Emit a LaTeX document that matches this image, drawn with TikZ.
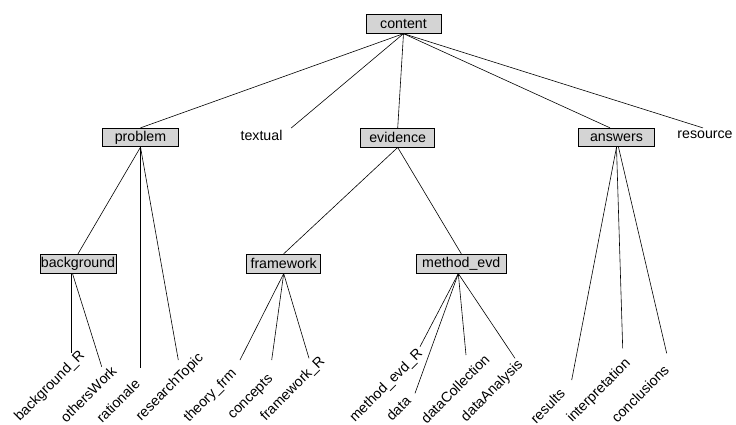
\documentclass[tikz,border=0pt]{standalone}
\usepackage{fontspec}
\setmainfont{Liberation Sans}
\definecolor{boxfill}{RGB}{212,212,212}
\begin{document}
\begin{tikzpicture}[x=1pt,y=-1pt,
  every node/.style={font=\fontsize{14.2}{15}\selectfont, inner sep=0pt},
  cat/.style={draw=black, fill=boxfill, line width=0.8pt, minimum height=18.5pt},
  leaf/.style={rotate=45},
  edge/.style={draw=black, line width=0.6pt}]
\useasboundingbox (0,0) rectangle (736,425);
% boxes
\node[cat, minimum width=75pt] (content) at (403.5,24) {content};
\node[cat, minimum width=76pt] (problem) at (140.5,137.5) {problem};
\node (textual) at (261.5,135) {textual};
\node[cat, minimum width=74pt] (evidence) at (397.7,137.8) {evidence};
\node[cat, minimum width=76pt] (answers) at (616.5,137.5) {answers};
\node (resource) at (705,135) {resource};
\node[cat, minimum width=76pt, minimum height=19pt] (background) at (78,263.7) {background};
\node[cat, minimum width=74pt, minimum height=19pt] (framework) at (283.7,263.7) {framework};
\node[cat, minimum width=90pt, minimum height=19pt] (methodevd) at (461.3,263.7) {method\_evd};
% leaves
\node[leaf] (bgR) at (50,386.5) {background\_R};
\node[leaf] (others) at (88.3,394) {othersWork};
\node[leaf] (rationale) at (118,401) {rationale};
\node[leaf] (research) at (170,387.5) {researchTopic};
\node[leaf] (theory) at (210.5,396) {theory\_frm};
\node[leaf] (concepts) at (251,397.5) {concepts};
\node[leaf] (frameR) at (293,389) {framework\_R};
\node[leaf] (methodR) at (386.5,386) {method\_evd\_R};
\node[leaf] (data) at (398.3,408.3) {data};
\node[leaf] (datacoll) at (455,389) {dataCollection};
\node[leaf] (dataanal) at (492.3,391) {dataAnalysis};
\node[leaf] (results) at (547.5,406) {results};
\node[leaf] (interp) at (599,391) {interpretation};
\node[leaf] (concl) at (640,394) {conclusions};
% free ends of leaf connectors
\coordinate (tbgR) at (71,353.3);
\coordinate (tothers) at (101.7,366.7);
\coordinate (trationale) at (140.5,368.3);
\coordinate (tresearch) at (178.3,360);
\coordinate (ttheory) at (240,360);
\coordinate (tconcepts) at (271.7,360);
\coordinate (tframeR) at (309,358.3);
\coordinate (tmethodR) at (420,346.7);
\coordinate (tdata) at (415,393.3);
\coordinate (tdatacoll) at (466,355);
\coordinate (tdataanal) at (515,358.3);
\coordinate (tresults) at (571.7,380);
\coordinate (tinterp) at (622.7,348.3);
\coordinate (tconcl) at (666.7,353.3);
% top level connectors
\draw[edge] (content.south) -- (problem.north);
\draw[edge] (content.south) -- ([shift={(8.5,-1.5)}]textual.north east);
\draw[edge] (content.south) -- (evidence.north);
\draw[edge] (content.south) -- ([xshift=-6.5pt]answers.north);
\draw[edge] (content.south) -- ([shift={(-2,-3)}]resource.north);
% second level
\draw[edge] (problem.south) -- (background.north);
\draw[edge] (problem.south) -- (trationale);
\draw[edge] (problem.south) -- (tresearch);
\draw[edge] (evidence.south) -- (framework.north);
\draw[edge] (evidence.south) -- (methodevd.north);
\draw[edge] (answers.south) -- (tresults);
\draw[edge] (answers.south) -- (tinterp);
\draw[edge] ([xshift=2pt]answers.south) -- (tconcl);
% third level
\draw[edge] ([xshift=-7pt]background.south) -- (tbgR);
\draw[edge] ([xshift=-5.5pt]background.south) -- (tothers);
\draw[edge] (framework.south) -- (ttheory);
\draw[edge] (framework.south) -- (tconcepts);
\draw[edge] (framework.south) -- (tframeR);
\draw[edge] ([xshift=-3pt]methodevd.south) -- (tmethodR);
\draw[edge] ([xshift=-3pt]methodevd.south) -- (tdata);
\draw[edge] ([xshift=-3pt]methodevd.south) -- (tdatacoll);
\draw[edge] ([xshift=-3pt]methodevd.south) -- (tdataanal);
\end{tikzpicture}
\end{document}
